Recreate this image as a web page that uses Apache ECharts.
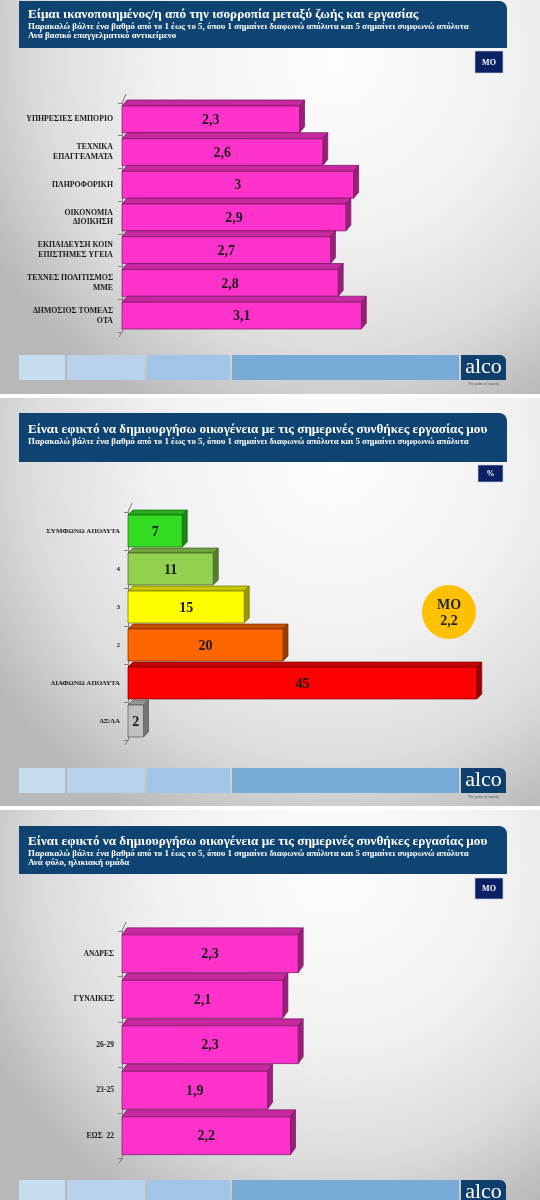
<!DOCTYPE html>
<html><head><meta charset="utf-8">
<script src="https://cdn.jsdelivr.net/npm/echarts@6/dist/echarts.min.js"></script>
<style>html,body{margin:0;padding:0;background:#fff}#c{width:540px;height:1200px}</style>
</head><body><div id="c"></div>
<script>
// ---- Data ----
const cats1 = ['ΥΠΗΡΕΣΙΕΣ ΕΜΠΟΡΙΟ','ΤΕΧΝΙΚΑ\nΕΠΑΓΓΕΛΜΑΤΑ','ΠΛΗΡΟΦΟΡΙΚΗ','ΟΙΚΟΝΟΜΙΑ\nΔΙΟΙΚΗΣΗ','ΕΚΠΑΙΔΕΥΣΗ ΚΟΙΝ\nΕΠΙΣΤΗΜΕΣ ΥΓΕΙΑ','ΤΕΧΝΕΣ ΠΟΛΙΤΙΣΜΟΣ\nΜΜΕ','ΔΗΜΟΣΙΟΣ ΤΟΜΕΑΣ\nΟΤΑ'];
const vals1 = [2.3, 2.6, 3, 2.9, 2.7, 2.8, 3.1];
const cats2 = ['ΣΥΜΦΩΝΩ ΑΠΟΛΥΤΑ','4','3','2','ΔΙΑΦΩΝΩ ΑΠΟΛΥΤΑ','ΔΞ/ΔΑ'];
const vals2 = [7, 11, 15, 20, 45, 2];
const mean2 = 2.2;
const cats3 = ['ΑΝΔΡΕΣ','ΓΥΝΑΙΚΕΣ','26-29','23-25','ΕΩΣ  22'];
const vals3 = [2.3, 2.1, 2.3, 1.9, 2.2];

const title1 = 'Είμαι ικανοποιημένος/η από την ισορροπία μεταξύ ζωής και εργασίας';
const title2 = 'Είναι εφικτό να δημιουργήσω οικογένεια με τις σημερινές συνθήκες εργασίας μου';
const sub = 'Παρακαλώ βάλτε ένα βαθμό από το 1 έως το 5, όπου 1 σημαίνει διαφωνώ απόλυτα και 5 σημαίνει συμφωνώ απόλυτα';
const sub1b = 'Ανά βασικό επαγγελματικό αντικείμενο';
const sub3b = 'Ανά φύλο, ηλικιακή ομάδα';

// ---- Styles ----
const SERIF = '"Liberation Serif","DejaVu Serif",serif';
const pink = ['#ff33cc'];
const scaleColors = ['#33dd22','#92d050','#ffff00','#ff6600','#ff0000','#c0c0c0'];
const HEAD = '#0f4472';
const NAVY = '#0b2163';

const fmt = v => String(v).replace('.', ',');
function shade(hex, f) {
  const n = parseInt(hex.slice(1), 16);
  const r = Math.round(((n >> 16) & 255) * f), g = Math.round(((n >> 8) & 255) * f), b = Math.round((n & 255) * f);
  return 'rgb(' + r + ',' + g + ',' + b + ')';
}
function makeRender(colors, ratio, dx, dy, fs) {
  return function (params, api) {
    const v = api.value(0), ci = api.value(1);
    const s = api.coord([0, ci]), e = api.coord([v, ci]);
    const h = api.size([0, 1])[1] * ratio;
    const x0 = s[0], x1 = e[0], y0 = s[1] - h / 2, y1 = s[1] + h / 2;
    const c = colors[params.dataIndex % colors.length];
    const top = shade(c, 0.78), side = shade(c, 0.6), edge = shade(c, 0.45);
    const ch = [
      {type: 'polygon', shape: {points: [[x0, y0], [x0 + dx, y0 - dy], [x1 + dx, y0 - dy], [x1, y0]]}, style: {fill: top, stroke: edge, lineWidth: 0.7}},
      {type: 'polygon', shape: {points: [[x1, y0], [x1 + dx, y0 - dy], [x1 + dx, y1 - dy], [x1, y1]]}, style: {fill: side, stroke: edge, lineWidth: 0.7}},
      {type: 'rect', shape: {x: x0, y: y0, width: x1 - x0, height: h}, style: {fill: c, stroke: edge, lineWidth: 0.7}},
      {type: 'text', x: (x0 + x1) / 2, y: (y0 + y1) / 2 + 1, style: {text: fmt(v), fill: '#1a1a1a', font: 'bold ' + fs + 'px ' + SERIF, align: 'center', verticalAlign: 'middle'}}
    ];
    if (params.dataIndex === 0) {
      const cs = params.coordSys;
      ch.push({type: 'line', shape: {x1: cs.x, y1: cs.y, x2: cs.x + 4, y2: cs.y - 9}, style: {stroke: '#777', lineWidth: 1}});
      ch.push({type: 'line', shape: {x1: cs.x, y1: cs.y + cs.height, x2: cs.x - 3, y2: cs.y + cs.height + 5}, style: {stroke: '#777', lineWidth: 1}});
    }
    return {type: 'group', children: ch};
  };
}

// ---- Decorations ----
const slides = [[0, 394], [398, 408], [810, 390]];
const g = [];
slides.forEach(([y, h]) => {
  g.push({type: 'rect', shape: {x: 0, y: y, width: 540, height: h}, style: {fill: new echarts.graphic.RadialGradient(0.62, 0.15, 1.0, [
    {offset: 0, color: '#fdfdfd'}, {offset: 0.45, color: '#f1f1f1'}, {offset: 0.75, color: '#dcdcdc'}, {offset: 1, color: '#b8b8b8'}])}, z: -10});
});
function header(y, h, lines) {
  g.push({type: 'rect', shape: {x: 19, y: y, width: 488, height: h, r: [0, 8, 0, 0]}, style: {fill: HEAD}, z: -5});
  lines.forEach(l => g.push({type: 'text', x: 28, y: l[1], style: {text: l[0], fill: '#fff', font: l[2], verticalAlign: 'middle'}, z: -4}));
}
const TF = 'bold 13.2px ' + SERIF, SF = 'bold 8.9px ' + SERIF;
header(1, 47, [[title1, 15, TF], [sub, 27, SF], [sub1b, 36, SF]]);
header(413, 49, [[title2, 430, TF], [sub, 442, SF]]);
header(826, 48, [[title2, 842, TF], [sub, 854, SF], [sub3b, 863, SF]]);
function tag(x, y, w, h, t) {
  g.push({type: 'rect', shape: {x: x, y: y, width: w, height: h}, style: {fill: NAVY, stroke: '#cfd6e4', lineWidth: 0.6}, z: -5});
  g.push({type: 'text', x: x + w / 2, y: y + h / 2 + 0.5, style: {text: t, fill: '#fff', font: 'bold 8px ' + SERIF, align: 'center', verticalAlign: 'middle'}, z: -4});
}
tag(475, 51, 28, 22, 'ΜΟ');
tag(478, 465, 25, 17, '%');
tag(475, 878, 28, 21, 'ΜΟ');
function footer(y) {
  const segs = [[19, 46, '#c6dcef'], [67, 78, '#b9d2ea'], [147, 83, '#a2c5e5'], [232, 227, '#78abd6']];
  segs.forEach(s => g.push({type: 'rect', shape: {x: s[0], y: y, width: s[1], height: 25}, style: {fill: s[2]}, z: -5}));
  g.push({type: 'rect', shape: {x: 461, y: y, width: 45, height: 25, r: [0, 6, 0, 0]}, style: {fill: '#0e3f6d'}, z: -5});
  g.push({type: 'text', x: 483.5, y: y + 12, style: {text: 'alco', fill: '#fff', font: '22px ' + SERIF, align: 'center', verticalAlign: 'middle'}, z: -4});
  g.push({type: 'text', x: 483.5, y: y + 29, style: {text: 'The pulse of society', fill: '#555', font: '3.5px "Liberation Sans"', align: 'center', verticalAlign: 'middle'}, z: -4});
}
footer(355); footer(768); footer(1180);
// mean circle
g.push({type: 'circle', shape: {cx: 449, cy: 612, r: 27}, style: {fill: '#ffc000'}, z: 5});
g.push({type: 'text', x: 449, y: 613, style: {text: 'ΜΟ\n' + fmt(mean2), fill: '#1c2340', font: 'bold 14px ' + SERIF, align: 'center', verticalAlign: 'middle', lineHeight: 16}, z: 6});

// ---- Chart ----
function yAx(idx, cats, fs, margin) {
  return {gridIndex: idx, type: 'category', data: cats, inverse: true,
    axisLine: {show: true, lineStyle: {color: '#808080', width: 1}},
    axisTick: {show: true, length: 4, lineStyle: {color: '#808080'}},
    axisLabel: {fontFamily: SERIF, fontWeight: 'bold', fontSize: fs, color: '#1a1a1a', margin: margin, lineHeight: fs + 2}};
}
function xAx(idx, max) {
  return {gridIndex: idx, type: 'value', min: 0, max: max, show: false};
}
const chart = echarts.init(document.getElementById('c'));
chart.setOption({
  animation: false,
  grid: [
    {left: 122, top: 103, width: 386, height: 229},
    {left: 128, top: 512, width: 387.5, height: 228},
    {left: 122, top: 931, width: 383, height: 227.5}
  ],
  xAxis: [xAx(0, 5), xAx(1, 50), xAx(2, 5)],
  yAxis: [yAx(0, cats1, 7.8, 9), yAx(1, cats2, 7, 8), yAx(2, cats3, 7.6, 8)],
  graphic: g,
  series: [
    {type: 'custom', xAxisIndex: 0, yAxisIndex: 0, renderItem: makeRender(pink, 0.82, 5, 6, 14),
      data: vals1.map((v, i) => [v, i]), encode: {x: 0, y: 1}, clip: false},
    {type: 'custom', xAxisIndex: 1, yAxisIndex: 1, renderItem: makeRender(scaleColors, 0.84, 5, 5, 14),
      data: vals2.map((v, i) => [v, i]), encode: {x: 0, y: 1}, clip: false},
    {type: 'custom', xAxisIndex: 2, yAxisIndex: 2, renderItem: makeRender(pink, 0.83, 5, 7, 14),
      data: vals3.map((v, i) => [v, i]), encode: {x: 0, y: 1}, clip: false}
  ]
});
</script></body></html>
